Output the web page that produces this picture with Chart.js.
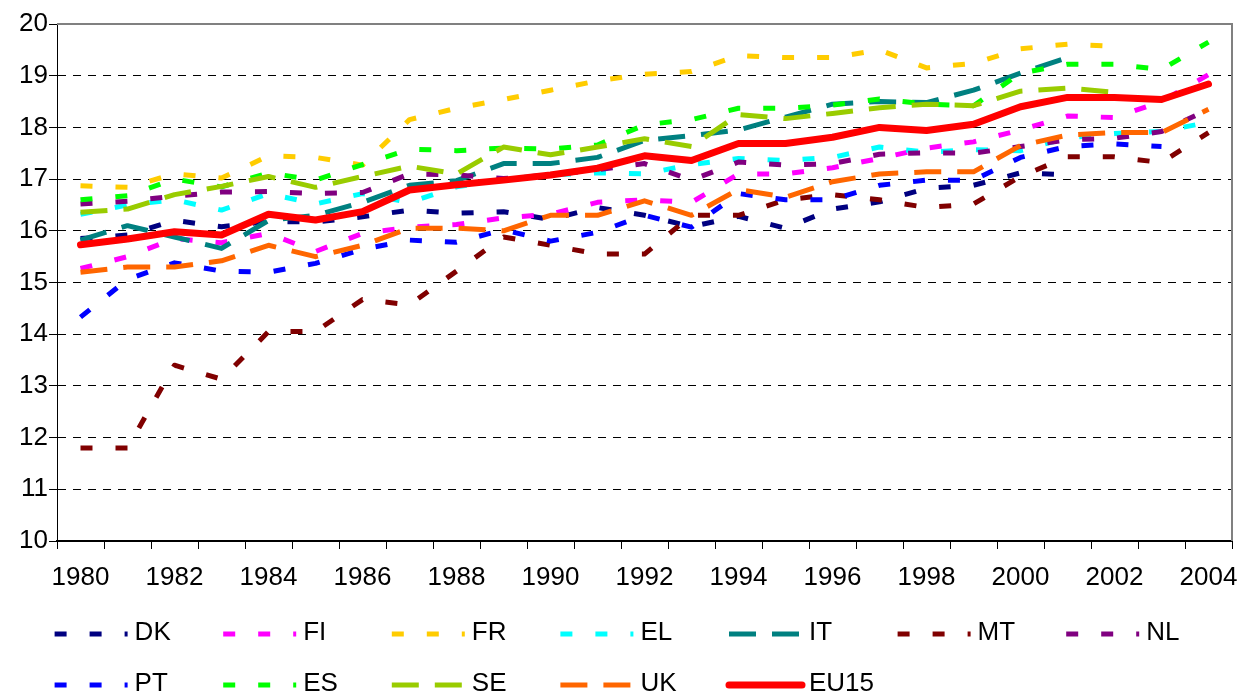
<!DOCTYPE html>
<html>
<head>
<meta charset="utf-8">
<script src="https://cdn.jsdelivr.net/npm/chart.js@4.4.1/dist/chart.umd.min.js"></script>
<style>
html,body{margin:0;padding:0;background:#fff;}
#wrap{width:1239px;height:696px;position:relative;}
</style>
</head>
<body>
<div id="wrap"><canvas id="c" width="1239" height="696"></canvas></div>
<script>
// ---- data ----
const years = ['1980','1981','1982','1983','1984','1985','1986','1987','1988','1989','1990','1991','1992','1993','1994','1995','1996','1997','1998','1999','2000','2001','2002','2003','2004'];
const DK   = [15.85,15.92,16.20,16.08,16.18,16.17,16.27,16.40,16.34,16.37,16.22,16.45,16.30,16.08,16.28,16.05,16.42,16.56,16.82,16.88,17.12,17.08,null,null,null];
const FI   = [15.27,15.50,15.85,15.77,15.95,15.60,15.95,16.07,16.12,16.25,16.32,16.55,16.60,16.55,17.10,17.10,17.22,17.40,17.60,17.72,17.95,18.22,18.19,18.50,19.02];
const FR   = [16.87,16.84,17.10,17.02,17.45,17.42,17.27,18.15,18.37,18.54,18.72,18.90,19.03,19.08,19.39,19.35,19.35,19.50,19.15,19.24,19.52,19.61,19.57,null,null];
const EL   = [16.32,16.50,16.60,16.40,16.72,16.52,16.72,16.55,16.85,17.00,17.08,17.12,17.10,17.28,17.40,17.36,17.42,17.62,17.52,17.57,17.55,17.80,17.88,17.92,18.10];
const IT   = [15.82,16.10,15.88,15.66,16.20,16.30,16.55,16.88,16.97,17.30,17.30,17.42,17.75,17.84,17.95,18.20,18.45,18.50,18.48,18.72,19.05,19.35,null,null,null];
const MT   = [11.80,11.80,13.40,13.13,14.05,14.05,14.67,14.57,15.22,15.88,15.72,15.55,15.55,16.30,16.30,16.60,16.70,16.60,16.45,16.52,17.05,17.43,17.43,17.32,17.90];
const NL   = [16.52,16.57,16.67,16.75,16.76,16.72,16.74,17.10,17.08,17.01,17.08,17.18,17.30,16.98,17.33,17.27,17.30,17.48,17.51,17.50,17.63,17.76,17.79,17.92,18.35];
const PT   = [14.33,15.06,15.38,15.22,15.20,15.37,15.64,15.82,15.78,16.02,15.80,15.97,16.30,16.07,16.72,16.60,16.60,16.88,16.98,16.98,17.42,17.63,17.68,17.63,null];
const ES   = [16.60,16.68,17.00,16.85,17.12,16.98,17.28,17.58,17.55,17.60,17.58,17.66,18.05,18.15,18.37,18.37,18.43,18.55,18.45,18.42,19.05,19.22,19.22,19.12,19.65];
const SE   = [16.36,16.42,16.70,16.86,17.05,16.84,17.05,17.25,17.10,17.62,17.47,17.62,17.78,17.63,18.25,18.17,18.27,18.38,18.45,18.42,18.70,18.76,18.68,null,null];
const UK   = [15.20,15.30,15.30,15.42,15.72,15.50,15.72,16.05,16.05,16.00,16.30,16.30,16.58,16.30,16.80,16.65,16.95,17.10,17.14,17.14,17.65,17.85,17.90,17.90,18.35];
const EU15 = [15.73,15.84,15.98,15.92,16.32,16.21,16.37,16.79,16.89,16.98,17.08,17.21,17.45,17.36,17.69,17.69,17.81,18.00,17.94,18.06,18.40,18.58,18.58,18.54,18.84];
const yTicks = [10,11,12,13,14,15,16,17,18,19,20];

const seriesLabels = ['DK','FI','FR','EL','IT','MT','NL','PT','ES','SE','UK','EU15'];
const seriesData   = [DK,FI,FR,EL,IT,MT,NL,PT,ES,SE,UK,EU15];

// ---- styles ----
const FONT = "'Liberation Sans', Arial, sans-serif";
const colors = {DK:'#000080',FI:'#FF00FF',FR:'#FFCC00',EL:'#00FFFF',IT:'#008080',MT:'#800000',NL:'#800080',PT:'#0000FF',ES:'#00FF00',SE:'#99CC00',UK:'#FF6600',EU15:'#FF0000'};
const SHORT = [12,23], LONG = [27,16];
const dashes = {DK:SHORT,FI:SHORT,FR:SHORT,EL:SHORT,IT:LONG,MT:SHORT,NL:SHORT,PT:SHORT,ES:SHORT,SE:LONG,UK:LONG,EU15:[]};

const datasets = seriesLabels.map((name,i)=>({
  label:name,
  data:seriesData[i],
  borderColor:colors[name],
  backgroundColor:colors[name],
  borderWidth: name==='EU15'?7:5,
  borderDash: dashes[name],
  borderCapStyle: name==='EU15'?'round':'butt',
  borderJoinStyle:'round',
  pointRadius:0,
  tension:0,
  fill:false,
  spanGaps:false,
  order: seriesLabels.length-1-i
}));

const plotFrame = {
  id:'plotFrame',
  afterDatasetsDraw(chart){
    const {ctx, chartArea:a} = chart;
    ctx.save();
    ctx.strokeStyle='#808080';
    ctx.lineWidth=2;
    ctx.beginPath();
    ctx.moveTo(a.left, a.top);
    ctx.lineTo(a.right, a.top);
    ctx.lineTo(a.right, a.bottom);
    ctx.stroke();
    ctx.restore();
  }
};

const customLegend = {
  id:'customLegend',
  afterDraw(chart){
    const ctx = chart.ctx;
    ctx.save();
    chart.data.datasets.forEach((ds,i)=>{
      const row = i<7?0:1, col = i<7?i:i-7;
      const x0 = 54.6 + col*168.6;
      const y = row===0?634:685;
      ctx.strokeStyle = ds.borderColor;
      ctx.lineWidth = ds.borderWidth;
      ctx.setLineDash(ds.borderDash||[]);
      ctx.lineCap = ds.borderCapStyle;
      ctx.beginPath();
      ctx.moveTo(x0,y);
      ctx.lineTo(x0+73,y);
      ctx.stroke();
      ctx.setLineDash([]);
      ctx.fillStyle='#000';
      ctx.font = '26px '+FONT;
      ctx.textBaseline='middle';
      ctx.textAlign='left';
      ctx.fillText(ds.label, x0+80, y-1);
    });
    ctx.restore();
  }
};

new Chart(document.getElementById('c'),{
  type:'line',
  data:{labels:years, datasets},
  options:{
    responsive:false,
    animation:false,
    devicePixelRatio:1,
    layout:{padding:{left:0,right:7,top:24,bottom:105}},
    plugins:{legend:{display:false},tooltip:{enabled:false}},
    scales:{
      x:{
        type:'category',
        offset:true,
        grid:{offset:true,drawOnChartArea:false,drawTicks:true,tickLength:8,tickColor:'#000',tickWidth:1},
        border:{color:'#000',width:2},
        ticks:{autoSkip:false,maxRotation:0,minRotation:0,padding:13,color:'#000',font:{family:FONT,size:26},
          callback:function(v,i){return i%2===0?this.getLabelForValue(v):'';}},
        afterFit:s=>{s.height=50;s.paddingLeft=0;s.paddingRight=0;}
      },
      y:{
        min:yTicks[0],max:yTicks[yTicks.length-1],
        afterBuildTicks:s=>{s.ticks=yTicks.map(v=>({value:v}));},
        ticks:{padding:1,color:'#000',font:{family:FONT,size:26}},
        grid:{
          color:c=>(c.tick&&(c.tick.value===20||c.tick.value===10))?'rgba(0,0,0,0)':'#000',
          lineWidth:1,tickLength:8,tickColor:'#000',tickWidth:1,tickBorderDash:[100,0]
        },
        border:{color:'#000',width:1,dash:[8,7]},
        afterFit:s=>{s.width=57;s.paddingTop=0;s.paddingBottom=0;}
      }
    }
  },
  plugins:[plotFrame,customLegend]
});
</script>
</body>
</html>
